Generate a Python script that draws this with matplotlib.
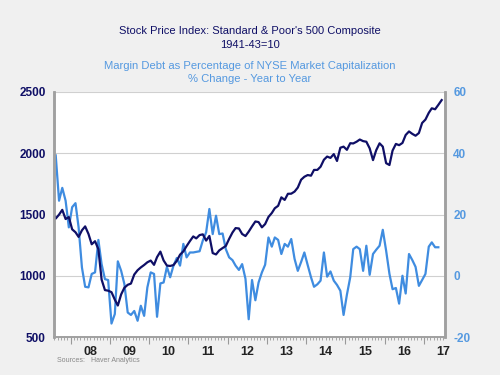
import numpy as np
import pandas as pd
import matplotlib
matplotlib.use("Agg")
import matplotlib.pyplot as plt
import matplotlib.dates as mdates
import matplotlib.transforms as mtransforms

plt.rcParams["font.family"] = ["Liberation Sans", "DejaVu Sans"]
plt.rcParams["axes.unicode_minus"] = False

DARK = "#0f0f66"
BLUE = "#3f8ce0"
TICKBLUE = "#5599e0"

# S&P 500 monthly average, Jul 2007 - Jun 2017
sp500 = [
    1518, 1467, 1499, 1538, 1463, 1479,
    1379, 1355, 1317, 1371, 1403, 1341, 1257, 1282, 1217, 969, 883, 878,
    866, 805, 757, 848, 902, 926, 936, 1010, 1045, 1068, 1088, 1110,
    1124, 1089, 1152, 1197, 1125, 1083, 1080, 1087, 1122, 1172, 1199, 1242,
    1283, 1321, 1305, 1332, 1338, 1287, 1325, 1185, 1174, 1207, 1226, 1243,
    1301, 1353, 1389, 1386, 1341, 1324, 1360, 1403, 1443, 1438, 1395, 1422,
    1480, 1512, 1551, 1571, 1640, 1619, 1669, 1670, 1687, 1720, 1784, 1808,
    1822, 1817, 1864, 1864, 1890, 1947, 1973, 1962, 1993, 1937, 2045, 2054,
    2028, 2082, 2080, 2094, 2112, 2099, 2094, 2040, 1944, 2025, 2081, 2054,
    1919, 1904, 2022, 2076, 2066, 2084, 2149, 2178, 2158, 2143, 2165, 2247,
    2275, 2330, 2367, 2359, 2395, 2434,
]

# Margin debt as % of NYSE market cap, % change y/y, Aug 2007 - May 2017
margin = [
    39.3, 24.5, 28.7, 24.5, 15.8,
    22.4, 23.7, 15.8, 2.7, -3.6, -3.8, 0.6, 1.1, 11.7, 3.8, -1.1, -1.4,
    -15.6, -12.5, 4.7, 1.6, -2.7, -12.0, -12.8, -11.5, -14.7, -9.8, -13.1, -3.8,
    1.1, 0.6, -13.4, -2.5, -2.2, 2.9, -0.5, 3.3, 5.8, 3.3, 10.4, 6.0,
    7.6, 7.6, 7.8, 8.0, 11.5, 14.2, 21.8, 13.6, 19.6, 13.6, 13.8, 8.7,
    6.0, 5.1, 3.3, 1.9, 3.8, -1.0, -14.2, -1.4, -8.0, -2.2, 1.1, 3.6,
    12.5, 9.5, 12.5, 11.7, 7.1, 10.4, 9.5, 12.0, 5.5, 1.6, 4.5, 7.6,
    3.5, -0.5, -3.6, -2.8, -1.6, 7.6, -0.3, 1.4, -1.6, -3.0, -4.9, -12.8,
    -6.2, -0.5, 8.7, 9.5, 8.7, 1.6, 9.8, 0.3, 7.1, 8.5, 9.8, 15.0,
    8.2, 0.6, -4.4, -4.0, -9.1, 0.0, -5.8, 7.1, 5.1, 2.9, -3.3, -1.4,
    0.6, 9.5, 10.9, 9.3, 9.3,
]

sp_dates = pd.date_range("2007-07-01", periods=len(sp500), freq="MS") + pd.Timedelta(days=14)
mg_dates = pd.date_range("2007-08-01", periods=len(margin), freq="MS") + pd.Timedelta(days=14)
years = list(range(2008, 2018))

fig = plt.figure(figsize=(5, 3.75), dpi=100, facecolor="#f0f0f0")
ax = fig.add_axes([54 / 500, 38 / 375, 391 / 500, 245 / 375])
ax2 = ax.twinx()

# light blue on the right axis, behind the S&P line
ax.set_zorder(ax2.get_zorder() + 1)
ax.patch.set_visible(False)
ax2.patch.set_visible(True)
ax2.patch.set_facecolor("white")

ax2.plot(mg_dates, margin, color=BLUE, lw=1.6)
ax.plot(sp_dates, sp500, color=DARK, lw=1.6)

ax.set_xlim(pd.Timestamp("2007-07-30"), pd.Timestamp("2017-07-16"))
ax.set_ylim(500, 2500)
ax2.set_ylim(-20, 60)
ax.set_yticks([500, 1000, 1500, 2000, 2500])
ax2.set_yticks([-20, 0, 20, 40, 60])
ax2.grid(axis="y", color="#d0d0d0", lw=0.8)

ax.tick_params(axis="y", length=0, pad=6, labelsize=8.5, labelcolor=DARK)
ax2.tick_params(axis="y", length=0, pad=6, labelsize=8.5, labelcolor=TICKBLUE)
for lab in ax.get_yticklabels():
    lab.set_fontweight("bold")
for lab in ax2.get_yticklabels():
    lab.set_fontweight("bold")

ax.xaxis.set_major_locator(mdates.YearLocator())
ax.xaxis.set_minor_locator(mdates.MonthLocator())
ax.xaxis.set_major_formatter(plt.NullFormatter())
ax.tick_params(axis="x", which="major", length=5, width=0.8, color="#999999")
ax.tick_params(axis="x", which="minor", length=2.5, width=0.6, color="#999999")

trans = mtransforms.blended_transform_factory(ax.transData, ax.transAxes)
for yr in years:
    ax.text(pd.Timestamp(f"{yr}-07-01"), -0.035, f"{yr % 100:02d}", transform=trans,
            ha="center", va="top", fontsize=9, fontweight="bold", color="#222222")

for a in (ax, ax2):
    a.spines["top"].set_visible(False)
    a.spines["left"].set_color("#a0a0a0")
    a.spines["right"].set_color("#a0a0a0")
    a.spines["bottom"].set_color("#a0a0a0")
    a.spines["left"].set_linewidth(1.8)
    a.spines["right"].set_linewidth(1.8)
    a.spines["bottom"].set_linewidth(1.2)

cx = (54 + 445) / 2 / 500
fig.text(cx, 1 - 31 / 375, "Stock Price Index: Standard & Poor's 500 Composite",
         ha="center", va="center", fontsize=8, color=DARK)
fig.text(cx, 1 - 45 / 375, "1941-43=10", ha="center", va="center", fontsize=8, color=DARK)
fig.text(cx, 1 - 66 / 375, "Margin Debt as Percentage of NYSE Market Capitalization",
         ha="center", va="center", fontsize=8.1, color=TICKBLUE)
fig.text(cx, 1 - 79 / 375, "% Change - Year to Year", ha="center", va="center",
         fontsize=8.1, color=TICKBLUE)
fig.text(57 / 500, 1 - 361 / 375, "Sources:   Haver Analytics", ha="left", va="center",
         fontsize=5, color="#888888")

fig.savefig("out.png", dpi=100, facecolor=fig.get_facecolor())
